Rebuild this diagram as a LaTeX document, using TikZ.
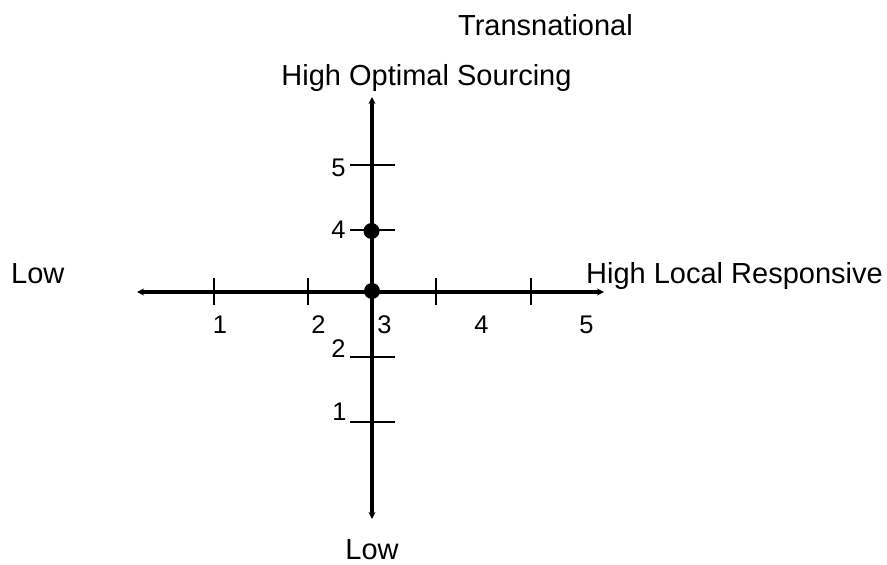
\documentclass[tikz,border=0pt]{standalone}
\usepackage{fontspec}
\setmainfont{Liberation Sans}
\usetikzlibrary{arrows.meta,positioning}

\begin{document}
\begin{tikzpicture}[x=1pt,y=-1pt,
   axis/.style={line width=3.5pt,{Stealth[length=7pt,width=7pt]}-{Stealth[length=7pt,width=7pt]}},
   tick/.style={line width=2pt},
   lbl/.style={font=\fontsize{29}{31}\selectfont,inner sep=0pt,anchor=base},
   num/.style={font=\fontsize{25.5}{27}\selectfont,inner sep=0pt,anchor=base},
   dot/.style={circle,fill=black,inner sep=0pt,minimum size=16pt}]
  \useasboundingbox (0,0) rectangle (887,565);
  % axes
  \coordinate (W) at (137,292);
  \coordinate (E) at (604,292);
  \coordinate (N) at (372,97);
  \coordinate (S) at (372,519);
  \draw[axis] (W) -- (E);
  \draw[axis] (S) -- (N);
  % horizontal ticks
  \draw[tick] (214,278) -- (214,305);
  \draw[tick] (308,278) -- (308,305);
  \draw[tick] (436,278) -- (436,305);
  \draw[tick] (531,278) -- (531,305);
  \node[num] (h1) at (220,333) {1};
  \node[num] (h2) at (318.5,333) {2};
  \node[num] (h3) at (384.5,333) {3};
  \node[num] (h4) at (481.5,333) {4};
  \node[num] (h5) at (586.5,333) {5};
  % vertical ticks
  \draw[tick] (350,165) -- (395,165);
  \draw[tick] (350,230) -- (395,230);
  \draw[tick] (350,357) -- (395,357);
  \draw[tick] (350,422) -- (395,422);
  \node[num] (v5) at (338.5,176) {5};
  \node[num] (v4) at (338.5,238) {4};
  \node[num] (v2) at (338.5,357) {2};
  \node[num] (v1) at (339.5,420) {1};
  % points
  \node[dot] (p0) at (372,291) {};
  \node[dot] (p1) at (371.5,231) {};
  % titles
  \node[lbl] (trans) at (545.5,35) {Transnational};
  \node[lbl] (hos) at (426.5,85) {High Optimal Sourcing};
  \node[lbl,anchor=base west] (lowl) at (11,283) {Low};
  \node[lbl,anchor=base west] (hlr) at (586,283) {High Local Responsive};
  \node[lbl] (lowb) at (372,559) {Low};
\end{tikzpicture}
\end{document}
